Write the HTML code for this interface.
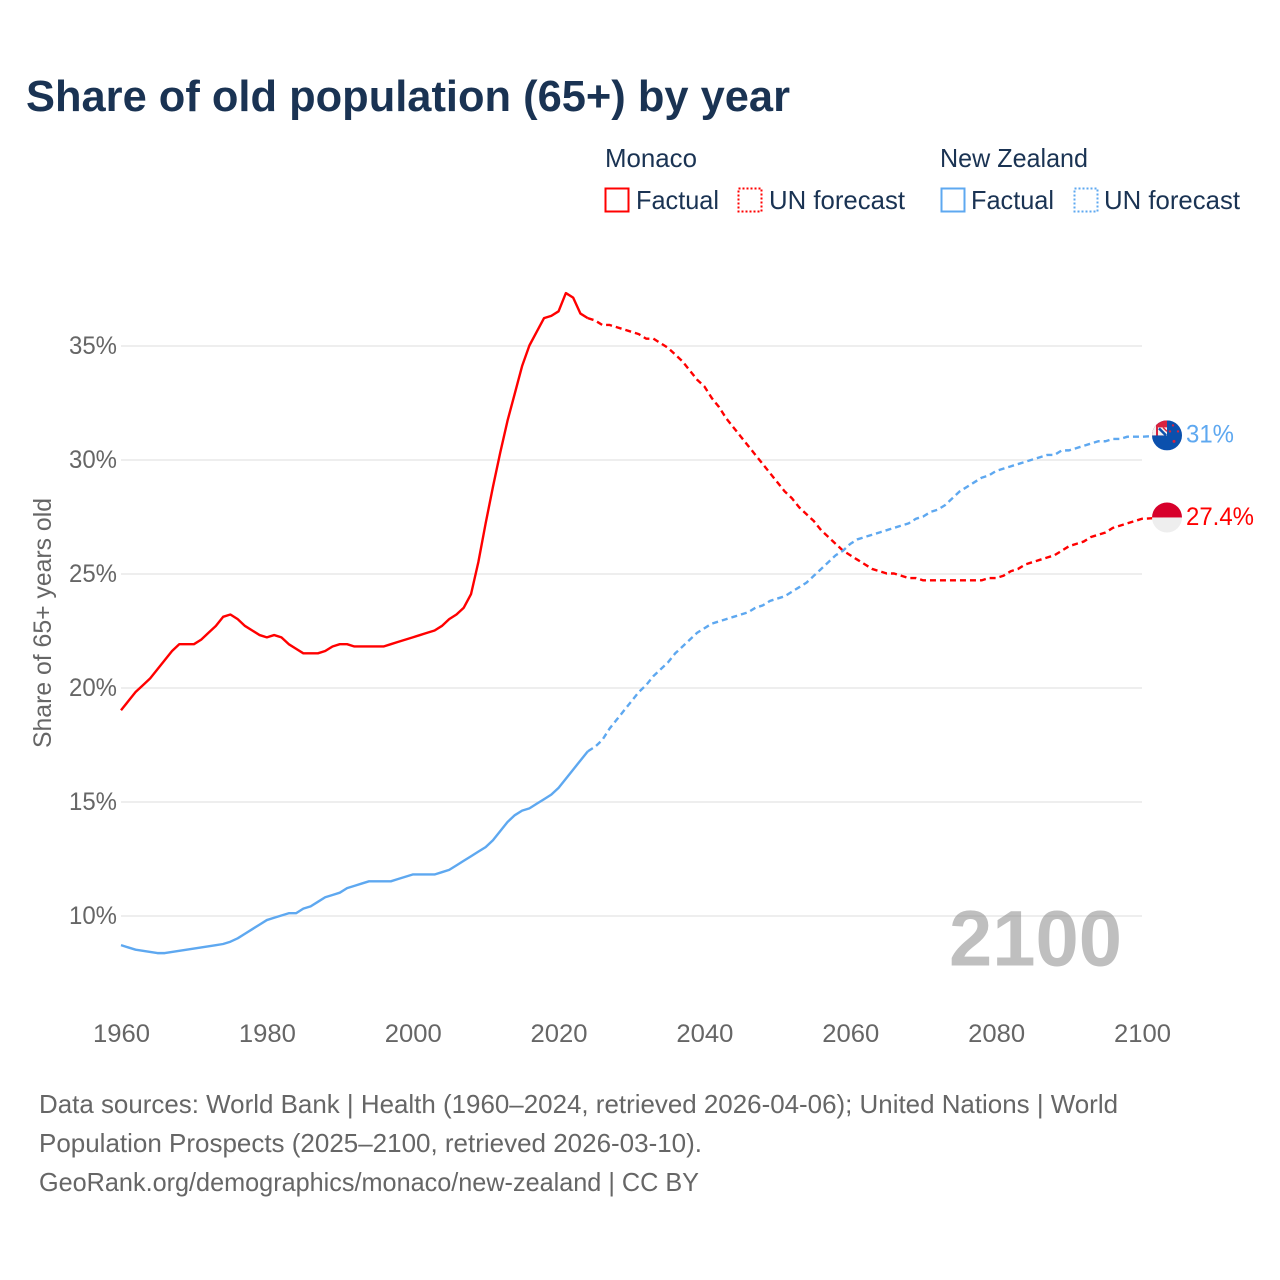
<!DOCTYPE html>
<html lang="en">
<head>
<meta charset="utf-8">
<title>Share of old population (65+) by year</title>
<style>
html,body{margin:0;padding:0;background:#fff;}
svg{display:block;}
text{font-family:"Liberation Sans",sans-serif;}
</style>
</head>
<body>
<svg id="chart" xmlns="http://www.w3.org/2000/svg" width="1280" height="1280" viewBox="0 0 1280 1280">
  <rect width="1280" height="1280" fill="#fff"/>
  <text x="26" y="111" font-size="44" font-weight="700" fill="#1a3353" textLength="764" lengthAdjust="spacingAndGlyphs">Share of old population (65+) by year</text>

  <g font-size="26" fill="#1a3353">
    <text x="605" y="167" textLength="92" lengthAdjust="spacingAndGlyphs">Monaco</text>
    <text x="940" y="167" textLength="148" lengthAdjust="spacingAndGlyphs">New Zealand</text>
    <rect x="605.5" y="188.5" width="23" height="23" fill="none" stroke="#ff0000" stroke-width="2"/>
    <text x="636" y="209" textLength="83" lengthAdjust="spacingAndGlyphs">Factual</text>
    <rect x="738.5" y="188.5" width="23" height="23" fill="none" stroke="#ff0000" stroke-width="2" stroke-dasharray="2 2"/>
    <text x="769" y="209" textLength="136" lengthAdjust="spacingAndGlyphs">UN forecast</text>
    <rect x="941.5" y="188.5" width="23" height="23" fill="none" stroke="#5ea8f0" stroke-width="2"/>
    <text x="971" y="209" textLength="83" lengthAdjust="spacingAndGlyphs">Factual</text>
    <rect x="1074.5" y="188.5" width="23" height="23" fill="none" stroke="#5ea8f0" stroke-width="2" stroke-dasharray="2 2"/>
    <text x="1104" y="209" textLength="136" lengthAdjust="spacingAndGlyphs">UN forecast</text>
  </g>

  <g id="grid"></g>
  <g id="yticks" font-size="25" fill="#666666"></g>
  <g id="xticks" font-size="25" fill="#666666"></g>
  <text transform="translate(51 623) rotate(-90)" text-anchor="middle" font-size="25" fill="#666666" textLength="250" lengthAdjust="spacingAndGlyphs">Share of 65+ years old</text>

  <text id="yearmark" x="949" y="965.5" font-size="79" font-weight="700" fill="#808080" fill-opacity="0.5" textLength="173" lengthAdjust="spacingAndGlyphs">2100</text>

  <g id="series"></g>

  <defs>
    <clipPath id="clip-nz"><circle cx="0" cy="0" r="15"/></clipPath>
    <clipPath id="clip-mc"><circle cx="0" cy="0" r="15"/></clipPath>
  </defs>
  <g id="flag-nz" clip-path="url(#clip-nz)">
    <rect x="-15" y="-15" width="30" height="30" fill="#0b50ad"/>
    <rect x="-15" y="-15" width="15" height="15" fill="#d8233f"/>
    <rect x="-15" y="-15" width="4" height="15" fill="#f2f0f0"/>
    <rect x="-9" y="-8" width="9" height="8" fill="#f2f0f0"/>
    <path d="M-8 -7 L-1 0" stroke="#0b50ad" stroke-width="2.5"/>
    <path d="M-4 -8 L0 -4" stroke="#d8233f" stroke-width="1.4"/>
    <circle cx="6" cy="-10" r="1.2" fill="#d8233f"/>
    <circle cx="3" cy="-4" r="1.2" fill="#d8233f"/>
    <circle cx="11" cy="-4" r="1.2" fill="#d8233f"/>
    <circle cx="7" cy="6" r="1.5" fill="#d8233f"/>
  </g>
  <g id="flag-mc" clip-path="url(#clip-mc)">
    <rect x="-15" y="-15" width="30" height="15" fill="#d7002b"/>
    <rect x="-15" y="0" width="30" height="15" fill="#eeeeee"/>
  </g>
  <text id="label-nz" x="1186" font-size="25" fill="#5ea8f0" textLength="48" lengthAdjust="spacingAndGlyphs"></text>
  <text id="label-mc" x="1186" font-size="25" fill="#ff0000" textLength="68" lengthAdjust="spacingAndGlyphs"></text>

  <g font-size="26" fill="#666666">
    <text x="39" y="1113" textLength="1079" lengthAdjust="spacingAndGlyphs">Data sources: World Bank | Health (1960–2024, retrieved 2026-04-06); United Nations | World</text>
    <text x="39" y="1152" textLength="663" lengthAdjust="spacingAndGlyphs">Population Prospects (2025–2100, retrieved 2026-03-10).</text>
    <text x="39" y="1191" textLength="660" lengthAdjust="spacingAndGlyphs">GeoRank.org/demographics/monaco/new-zealand | CC BY</text>
  </g>
</svg>
<script>
// Chart data
const startYear = 1960;
const lastFactualYear = 2024;
const xTickLabels = [1960, 1980, 2000, 2020, 2040, 2060, 2080, 2100];
const yTickLabels = [10, 15, 20, 25, 30, 35];
const monacoValues = [
  19.0,19.4,19.8,20.1,20.4,20.8,21.2,21.6,21.9,21.9,
  21.9,22.1,22.4,22.7,23.1,23.2,23.0,22.7,22.5,22.3,
  22.2,22.3,22.2,21.9,21.7,21.5,21.5,21.5,21.6,21.8,
  21.9,21.9,21.8,21.8,21.8,21.8,21.8,21.9,22.0,22.1,
  22.2,22.3,22.4,22.5,22.7,23.0,23.2,23.5,24.1,25.5,
  27.2,28.8,30.3,31.7,32.9,34.1,35.0,35.6,36.2,36.3,
  36.5,37.3,37.1,36.4,36.2,36.1,35.9,35.9,35.8,35.7,
  35.6,35.5,35.3,35.3,35.1,34.9,34.6,34.3,33.9,33.5,
  33.2,32.7,32.3,31.8,31.4,31.0,30.6,30.2,29.8,29.4,
  29.0,28.6,28.3,27.9,27.6,27.3,26.9,26.6,26.3,26.0,
  25.8,25.6,25.4,25.2,25.1,25.0,25.0,24.9,24.8,24.8,
  24.7,24.7,24.7,24.7,24.7,24.7,24.7,24.7,24.7,24.8,
  24.8,24.9,25.1,25.2,25.4,25.5,25.6,25.7,25.8,26.0,
  26.2,26.3,26.4,26.6,26.7,26.8,27.0,27.1,27.2,27.3,27.4
];
const newZealandValues = [
  8.7,8.6,8.5,8.45,8.4,8.35,8.35,8.4,8.45,8.5,
  8.55,8.6,8.65,8.7,8.75,8.85,9.0,9.2,9.4,9.6,
  9.8,9.9,10.0,10.1,10.1,10.3,10.4,10.6,10.8,10.9,
  11.0,11.2,11.3,11.4,11.5,11.5,11.5,11.5,11.6,11.7,
  11.8,11.8,11.8,11.8,11.9,12.0,12.2,12.4,12.6,12.8,
  13.0,13.3,13.7,14.1,14.4,14.6,14.7,14.9,15.1,15.3,
  15.6,16.0,16.4,16.8,17.2,17.4,17.7,18.2,18.6,19.0,
  19.4,19.8,20.1,20.5,20.8,21.1,21.5,21.8,22.1,22.4,
  22.6,22.8,22.9,23.0,23.1,23.2,23.3,23.5,23.6,23.8,
  23.9,24.0,24.2,24.4,24.6,24.9,25.2,25.5,25.8,26.0,
  26.3,26.5,26.6,26.7,26.8,26.9,27.0,27.1,27.2,27.4,
  27.5,27.7,27.8,28.0,28.3,28.6,28.8,29.0,29.2,29.3,
  29.5,29.6,29.7,29.8,29.9,30.0,30.1,30.2,30.2,30.4,
  30.4,30.5,30.6,30.7,30.8,30.8,30.9,30.9,31.0,31.0,31.0
];

const NS = 'http://www.w3.org/2000/svg';
function xScale(year){ return 121 + (year - 1960) * 7.2929; }
function yScale(v){ return 915.5 - (v - 10) * 22.8; }
function make(tag, attrs){
  const el = document.createElementNS(NS, tag);
  for (const k in attrs) el.setAttribute(k, attrs[k]);
  return el;
}

const gridG = document.getElementById('grid');
const yTicksG = document.getElementById('yticks');
const xTicksG = document.getElementById('xticks');
const seriesG = document.getElementById('series');

yTickLabels.forEach(function(v){
  const line = make('line', {x1: 121, x2: 1142, y1: yScale(v) + 0.5, y2: yScale(v) + 0.5, stroke: '#e4e4e4', 'stroke-width': 1.3});
  
  
  gridG.appendChild(line);
  const t = make('text', {x: 117, y: yScale(v) + 8.5, 'text-anchor': 'end', textLength: 48, lengthAdjust: 'spacingAndGlyphs'});
  
  
  t.textContent = v + '%';
  yTicksG.appendChild(t);
});

xTickLabels.forEach(function(y){
  const t = make('text', {x: xScale(y) + 0.5, y: 1042, 'text-anchor': 'middle', textLength: 57, lengthAdjust: 'spacingAndGlyphs'});
  
  
  t.textContent = y;
  xTicksG.appendChild(t);
});

function pointsFor(values, from, to){
  const pts = [];
  values.forEach(function(v, i){
    const year = startYear + i;
    if (year >= from && year <= to) pts.push(xScale(year).toFixed(2) + ',' + yScale(v).toFixed(2));
  });
  return pts.join(' ');
}

function drawSeries(values, color, key, flagId, labelId){
  const endYear = startYear + values.length - 1;
  const endValue = values[values.length - 1];
  const solid = make('polyline', {points: pointsFor(values, startYear, lastFactualYear), fill: 'none', stroke: color, 'stroke-width': 2.4, 'stroke-linejoin': 'round'});
  
  
  seriesG.appendChild(solid);
  const flagX = xScale(endYear) + 25;
  const flagY = yScale(endValue) - 1.3;
  const dashed = make('polyline', {points: pointsFor(values, lastFactualYear, endYear) + ' ' + flagX + ',' + flagY, fill: 'none', stroke: color, 'stroke-width': 2.4, 'stroke-linejoin': 'round', 'stroke-dasharray': '6 4'});
  
  
  seriesG.appendChild(dashed);
  document.getElementById(flagId).setAttribute('transform', 'translate(' + flagX + ' ' + flagY + ')');
  const lab = document.getElementById(labelId);
  lab.setAttribute('y', yScale(endValue) + 6);
  lab.textContent = endValue + '%';
}

drawSeries(monacoValues, '#ff0000', 'monaco', 'flag-mc', 'label-mc');
drawSeries(newZealandValues, '#5ea8f0', 'new-zealand', 'flag-nz', 'label-nz');
document.getElementById('yearmark').textContent = startYear + monacoValues.length - 1;
</script>
</body>
</html>
